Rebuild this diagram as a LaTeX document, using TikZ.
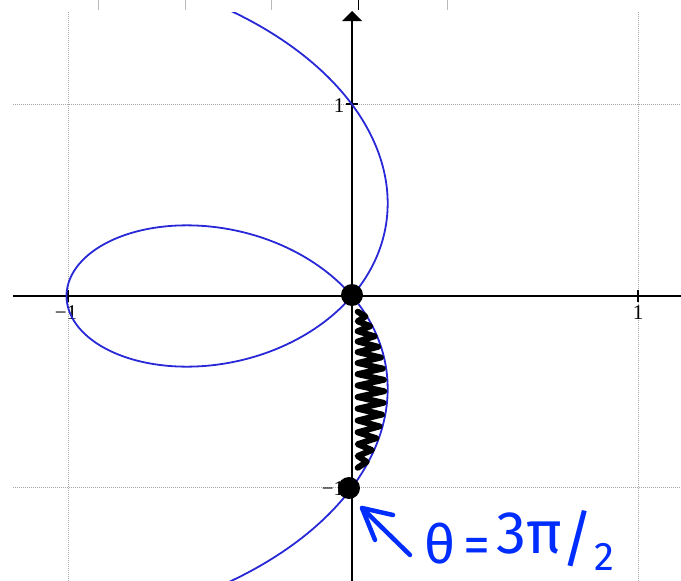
\documentclass[tikz,border=0pt]{standalone}
\usepackage{fontspec}
\newfontfamily\hand{Fira Sans}
\newfontfamily\labfont{Liberation Serif}
\definecolor{curveblue}{RGB}{40,40,215}
\definecolor{inkblue}{RGB}{0,45,255}
\begin{document}
\begin{tikzpicture}[x=1pt,y=-1pt,
  grid/.style={gray!70, line width=0.9pt, dash pattern=on 1pt off 1pt},
  axis/.style={black, line width=1.8pt},
  tickmark/.style={black, line width=1.5pt},
  ticklab/.style={font=\labfont\fontsize{21}{21}\selectfont, inner sep=0pt},
  curve/.style={curveblue, line width=1.8pt},
  dotmark/.style={circle, fill=black, inner sep=0pt, minimum size=22pt},
  ink/.style={inkblue, line width=4.5pt, line cap=round, line join=round},
  scribble/.style={black, line width=6pt, line cap=round, line join=round},
  topmark/.style={gray!55, line width=1pt}]
\useasboundingbox (0,0) rectangle (681,581);
% marks along the top edge
\foreach \u in {98,185,271,447} \draw[topmark] (\u,0) -- (\u,10);
\draw[black, line width=0.8pt] (358,0) -- (358,10);
% grid
\draw[grid] (68,12) -- (68,581);
\draw[grid] (638,12) -- (638,581);
\draw[grid] (13,104) -- (681,104);
\draw[grid] (13,487) -- (681,487);
% axes
\draw[axis] (13,296) -- (681,296);
\draw[axis] (352,581) -- (352,19);
\fill (352,11) -- (362,21) -- (342,21) -- cycle;
% ticks
\draw[tickmark] (68,290) -- (68,302);
\draw[tickmark] (638,290) -- (638,302);
\draw[tickmark] (346,104) -- (358,104);
\draw[tickmark] (346,487) -- (358,487);
% tick labels
\node[ticklab] (ly1) at (339,106) {1};
\node[ticklab] (lym1) at (333,489) {−1};
\node[ticklab] (lxm1) at (66,313) {−1};
\node[ticklab] (lx1) at (638,313) {1};
% curve r = 1 - 2 cos(theta)
\begin{scope}[shift={(352pt,-296pt)}, x=285.5pt, y=191.5pt]
  \clip (-1.19,-1.5) rectangle (1.25,1.483);
  \draw[curve] plot[domain=0:360, samples=361, smooth]
    ({(1-2*cos(\x))*cos(\x)}, {(1-2*cos(\x))*sin(\x)});
  \draw[scribble] plot[domain=0:28, samples=29]
    ({ifthenelse(mod(\x,2)<0.5, 0.02, 0.9*(1-2*cos(297-0.86*\x))*cos(297-0.86*\x))},
     {(1-2*cos(297-0.86*\x))*sin(297-0.86*\x)});
\end{scope}
% dots
\node[dotmark] (o) at (352,295) {};
\node[dotmark] (m) at (349,488) {};
% annotation
\coordinate (atail) at (410,555);
\coordinate (atip) at (362,508);
\coordinate (aarm1) at (393,515);
\coordinate (aarm2) at (375,540);
\draw[ink] (atail) -- (atip);
\draw[ink] (aarm1) -- (atip) -- (aarm2);
\node[inkblue, font=\hand\fontsize{54}{54}\selectfont, anchor=base west, inner sep=0pt] (lab) at (424,563)
  {θ\hspace{8pt}=\hspace{6pt}\raisebox{10pt}{\fontsize{60}{60}\selectfont 3π}\raisebox{3pt}{\fontsize{62}{62}\selectfont /}\raisebox{-7pt}{\fontsize{40}{40}\selectfont 2}};
\end{tikzpicture}
\end{document}
